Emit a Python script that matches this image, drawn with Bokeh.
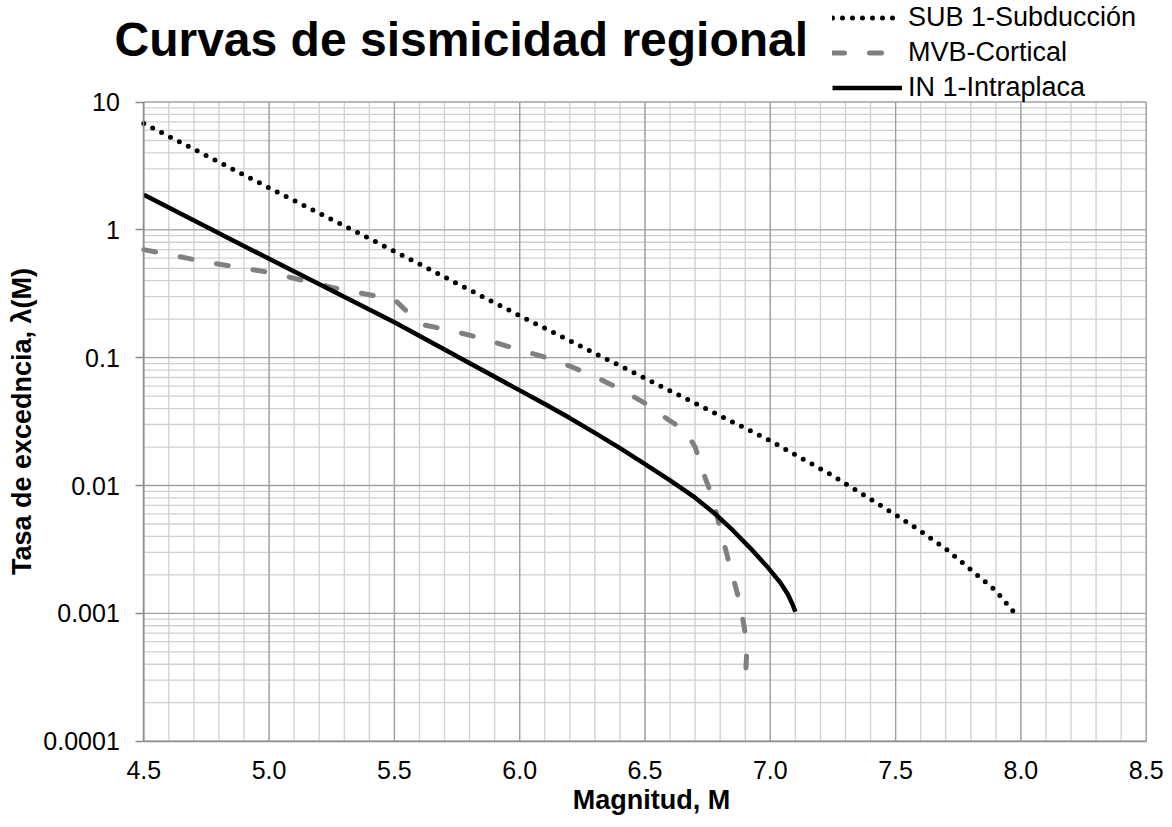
from bokeh.plotting import figure
from bokeh.models import (FixedTicker, CustomJSTickFormatter, Legend, LegendItem,
                          Label, Range1d)
from bokeh.embed import file_html
from bokeh.resources import INLINE
import math

# ---- data ----
sub_m = [4.5, 5.0, 5.5, 6.0, 6.5, 7.0, 7.25, 7.5, 7.6, 7.7, 7.8, 7.9, 7.99]
sub_l = [6.8, 2.13, 0.68, 0.213, 0.069, 0.0224, 0.0119, 0.0059, 0.0044, 0.0032, 0.0022, 0.0015, 0.00093]

mvb_m = [4.5, 4.75, 5.0, 5.25, 5.45, 5.5, 5.56, 5.62, 5.7, 5.8, 5.9, 6.0, 6.1, 6.2, 6.3, 6.4,
         6.5, 6.6, 6.66, 6.7, 6.74, 6.77, 6.8, 6.84, 6.88, 6.9, 6.905, 6.9]
mvb_l = [0.70, 0.56, 0.465, 0.355, 0.297, 0.285, 0.22, 0.18, 0.167, 0.15, 0.132, 0.115, 0.101,
         0.086, 0.071, 0.057, 0.044, 0.032, 0.027, 0.02, 0.0115, 0.008, 0.0046, 0.0023, 0.00118,
         0.0007, 0.00045, 0.0003]

in_m = [4.5, 5.0, 5.5, 6.0, 6.1, 6.2, 6.3, 6.4, 6.5, 6.6, 6.7, 6.78, 6.85, 6.92, 6.99,
        7.04, 7.07, 7.09, 7.1]
in_l = [1.88, 0.593, 0.189, 0.0555, 0.0434, 0.0337, 0.0258, 0.0196, 0.01469, 0.01096, 0.00804,
        0.0060, 0.00447, 0.00324, 0.00229, 0.00174, 0.00141, 0.00116, 0.00103]

series_names = ["SUB 1-Subducción", "MVB-Cortical", "IN 1-Intraplaca"]

x_major = [4.5, 5.0, 5.5, 6.0, 6.5, 7.0, 7.5, 8.0, 8.5]
x_minor = [round(4.5 + 0.1 * i, 1) for i in range(41)]
y_major = [0.0001, 0.001, 0.01, 0.1, 1, 10]
y_minor = [round(d * k, 6) for d in [0.0001, 0.001, 0.01, 0.1, 1] for k in range(2, 10)]

title_text = "Curvas de sismicidad regional"
x_title = "Magnitud, M"
y_title = "Tasa de excedncia, λ(M)"

FONT = "Liberation Sans"
W, H = 1172, 827
# plot box in page pixels
BOX_L, BOX_R, BOX_T, BOX_B = 143.3, 1145.7, 101.5, 740.7
XMIN, XMAX = x_major[0], x_major[-1]
YMIN, YMAX = y_major[0], y_major[-1]
px_per_x = (BOX_R - BOX_L) / (XMAX - XMIN)
px_per_dec = (BOX_B - BOX_T) / (math.log10(YMAX) - math.log10(YMIN))
xr = Range1d(XMIN - BOX_L / px_per_x, XMAX + (W - BOX_R) / px_per_x)
yr = Range1d(10 ** (math.log10(YMIN) - (H - BOX_B) / px_per_dec),
             10 ** (math.log10(YMAX) + BOX_T / px_per_dec))

p = figure(width=W, height=H, y_axis_type="log", output_backend="svg",
           toolbar_location=None, x_range=xr, y_range=yr,
           min_border_left=0, min_border_right=0, min_border_top=0, min_border_bottom=0)
p.outline_line_color = None
p.background_fill_color = "white"
p.border_fill_color = "white"
p.xgrid.visible = False
p.ygrid.visible = False

# grid lines restricted to the plot box
MINOR_C, MAJOR_C = "#d0d0d0", "#a0a0a0"
p.segment(x0=x_minor, y0=[YMIN] * len(x_minor), x1=x_minor, y1=[YMAX] * len(x_minor),
          line_color=MINOR_C, line_width=1.3)
p.segment(x0=[XMIN] * len(y_minor), y0=y_minor, x1=[XMAX] * len(y_minor), y1=y_minor,
          line_color=MINOR_C, line_width=1.3)
p.segment(x0=x_major, y0=[YMIN] * len(x_major), x1=x_major, y1=[YMAX] * len(x_major),
          line_color=MAJOR_C, line_width=1.3)
p.segment(x0=[XMIN] * len(y_major), y0=y_major, x1=[XMAX] * len(y_major), y1=y_major,
          line_color=MAJOR_C, line_width=1.3)

# axes fixed at the plot box edges
xa = p.xaxis[0]
xa.fixed_location = YMIN
xa.bounds = (XMIN, XMAX)
xa.ticker = FixedTicker(ticks=x_major)
xa.formatter = CustomJSTickFormatter(code="return tick.toFixed(1)")
ya = p.yaxis[0]
ya.fixed_location = XMIN
ya.bounds = (YMIN, YMAX)
ya.ticker = FixedTicker(ticks=y_major)
ya.formatter = CustomJSTickFormatter(code="return tick.toString()")
for ax in (xa, ya):
    ax.axis_line_color = "#8c8c8c"
    ax.axis_line_width = 1.5
    ax.minor_tick_line_color = None
    ax.major_label_text_font = FONT
    ax.major_label_text_font_size = "25px"
    ax.major_label_text_color = "black"
    ax.axis_label = None
xa.major_tick_line_color = None
xa.major_tick_out = 0
xa.major_tick_in = 0
xa.major_label_standoff = 20
ya.major_tick_line_color = "#8c8c8c"
ya.major_tick_line_width = 1.5
ya.major_tick_out = 8
ya.major_tick_in = 0
ya.major_label_standoff = 16

# series
r_sub = p.line(sub_m, sub_l, line_color="black", line_width=5, line_dash="0 10", line_cap="round")
r_mvb = p.line(mvb_m, mvb_l, line_color="#808080", line_width=5, line_dash="12 25", line_cap="round")
r_in = p.line(in_m, in_l, line_color="black", line_width=4.5, line_join="round")

legend = Legend(items=[LegendItem(label=series_names[0], renderers=[r_sub]),
                       LegendItem(label=series_names[1], renderers=[r_mvb]),
                       LegendItem(label=series_names[2], renderers=[r_in])],
                location=(832, H - 105), orientation="vertical",
                glyph_width=70, glyph_height=35, label_height=35, spacing=0,
                padding=0, margin=0, border_line_color=None, background_fill_alpha=0,
                label_text_font=FONT, label_text_font_size="27px", label_standoff=6,
                label_text_color="black")
p.add_layout(legend)

p.add_layout(Label(x=114, y=H - 39, x_units="screen", y_units="screen", text=title_text,
                   text_font=FONT, text_font_style="bold", text_font_size="48px",
                   text_color="black", text_baseline="alphabetic"))
p.add_layout(Label(x=651, y=H - 799, x_units="screen", y_units="screen", text=x_title,
                   text_font=FONT, text_font_style="bold", text_font_size="27px",
                   text_color="black", text_align="center", text_baseline="middle"))
p.add_layout(Label(x=21, y=H - 421, x_units="screen", y_units="screen", text=y_title,
                   angle=math.pi / 2, text_font=FONT, text_font_style="bold",
                   text_font_size="27px", text_color="black", text_align="center",
                   text_baseline="middle"))

open("out.html", "w").write(file_html(p, INLINE))
